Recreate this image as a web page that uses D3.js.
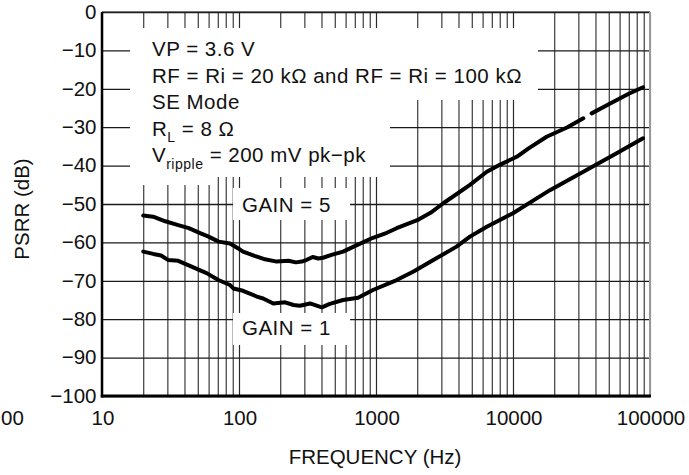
<!DOCTYPE html>
<html><head><meta charset="utf-8">
<script src="https://cdn.jsdelivr.net/npm/d3@7"></script>
<style>
html,body{margin:0;padding:0;background:#fff;}
svg{display:block;}
text{font-family:"Liberation Sans",Arial,Helvetica,sans-serif;fill:#111;}
</style></head>
<body>
<svg id="chart" width="689" height="475"></svg>
<script>
// ---- data ----
const gain5Freq = [20, 23.6, 29, 36, 43, 52, 60, 71, 86, 101, 107, 130, 155, 188, 230, 260, 287, 310, 345, 380, 410, 480, 575, 725, 950, 1200, 1415, 2000, 2500, 3100, 4850, 6440, 8000, 10650, 13000, 17600, 25000, 32600, 34500, 37500, 50000, 70000, 89000];
const gain5Psrr = [-53.0, -53.3, -54.5, -55.5, -56.3, -57.6, -58.5, -59.8, -60.3, -61.8, -62.4, -63.5, -64.4, -65.0, -64.8, -65.2, -65.0, -64.6, -63.8, -64.2, -64.0, -63.2, -62.4, -60.7, -58.8, -57.5, -56.3, -54.2, -52.3, -49.8, -45.0, -41.6, -39.8, -37.7, -35.5, -32.5, -30.0, -27.7, null, -26.4, -24.0, -21.3, -19.6];
const gain1Freq = [20, 23.7, 27, 30.5, 36, 43.8, 58, 70.7, 86, 91, 107, 135, 150, 178, 217, 250, 278, 330, 402, 460, 575, 740, 950, 1415, 1880, 2620, 3870, 4850, 6440, 10000, 14200, 18600, 32600, 57100, 89000];
const gain1Psrr = [-62.4, -63.0, -63.4, -64.6, -64.8, -66.1, -68.0, -69.8, -71.1, -72.0, -72.6, -74.1, -74.6, -75.9, -75.6, -76.3, -76.5, -75.9, -76.9, -76.0, -75.0, -74.4, -72.4, -69.8, -67.6, -64.6, -61.1, -58.5, -55.9, -52.4, -49.0, -46.4, -41.6, -36.8, -32.9];
const xTickValues = [10, 100, 1000, 10000, 100000];
const xTickLabels = ["10", "100", "1000", "10000", "100000"];
const yTickValues = [0, -10, -20, -30, -40, -50, -60, -70, -80, -90, -100];
const yTickLabels = ["0", "\u221210", "\u221220", "\u221230", "\u221240", "\u221250", "\u221260", "\u221270", "\u221280", "\u221290", "\u2212100"];
const xTitle = "FREQUENCY (Hz)";
const yTitle = "PSRR (dB)";

// ---- layout ----
const svg = d3.select("#chart");
const L = 102, R = 650, T = 12, B = 396;
const FS = 20.5;
const x = d3.scaleLog().domain([10, 100000]).range([L, R]);
const y = d3.scaleLinear().domain([-100, 0]).range([B, T]);

// grid
const minor = [];
for (let d = 10; d < 100000; d *= 10) for (let k = 1; k <= 10; k++) minor.push(d * k);
const gx = d3.axisBottom(x).tickValues(minor).tickSize(-(B - T)).tickFormat("");
svg.append("g").attr("transform", `translate(0,${B})`).call(gx)
  .call(g => g.select(".domain").remove())
  .call(g => g.selectAll("line").attr("stroke", "#2a2a2a").attr("stroke-width", 1.1));
const gy = d3.axisLeft(y).tickValues(yTickValues).tickSize(-(R - L)).tickFormat("");
svg.append("g").attr("transform", `translate(${L},0)`).call(gy)
  .call(g => g.select(".domain").remove())
  .call(g => g.selectAll("line").attr("stroke", "#1a1a1a").attr("stroke-width", 1.3));

// white annotation boxes masking grid
const boxes = [[130, 28, 538, 100], [130, 100, 390, 177], [130, 177, 210, 185], [233, 188, 350, 220], [233, 313, 350, 345]];
svg.append("g").selectAll("rect").data(boxes).join("rect")
  .attr("x", d => d[0]).attr("y", d => d[1]).attr("width", d => d[2] - d[0]).attr("height", d => d[3] - d[1])
  .attr("fill", "#fff");

// frame
svg.append("line").attr("x1", L).attr("x2", R).attr("y1", T).attr("y2", T).attr("stroke", "#222").attr("stroke-width", 1.2);
svg.append("line").attr("x1", R).attr("x2", R).attr("y1", T).attr("y2", B).attr("stroke", "#999").attr("stroke-width", 2);
svg.append("line").attr("x1", L).attr("x2", L).attr("y1", T).attr("y2", B + 1.5).attr("stroke", "#000").attr("stroke-width", 2.5);
svg.append("line").attr("x1", L - 1.2).attr("x2", R + 1).attr("y1", B).attr("y2", B).attr("stroke", "#000").attr("stroke-width", 3);

// axes labels
const ax = svg.append("g").attr("font-size", FS);
ax.selectAll(".yt").data(yTickValues).join("text").attr("class", "yt")
  .attr("x", 96.5).attr("y", d => y(d) + 6.8).attr("text-anchor", "end").text((d, i) => yTickLabels[i]);
ax.selectAll(".xt").data(xTickValues).join("text").attr("class", "xt")
  .attr("x", d => x(d) + 1).attr("y", 425).attr("text-anchor", "middle").text((d, i) => xTickLabels[i]);
// stray partial label at the far left edge (only "00" visible in the reference)
ax.append("text").attr("x", 1).attr("y", 425).attr("text-anchor", "start").text("00");
ax.append("text").attr("x", 375).attr("y", 464).attr("text-anchor", "middle").text(xTitle);
ax.append("text").attr("transform", "translate(29,209) rotate(-90)").attr("text-anchor", "middle").text(yTitle);

// curves
const line = d3.line().defined(d => d[1] !== null).x(d => x(d[0])).y(d => y(d[1])).curve(d3.curveLinear);
const series = [gain5Freq.map((f, i) => [f, gain5Psrr[i]]), gain1Freq.map((f, i) => [f, gain1Psrr[i]])];
svg.append("g").selectAll("path").data(series).join("path")
  .attr("d", line).attr("fill", "none").attr("stroke", "#000").attr("stroke-width", 4)
  .attr("stroke-linejoin", "round").attr("stroke-linecap", "round");

// annotations
const an = svg.append("g").attr("font-size", FS).attr("letter-spacing", 0.5);
an.append("text").attr("x", 152).attr("y", 56).text("VP = 3.6 V");
an.append("text").attr("x", 152).attr("y", 82.5).text("RF = Ri = 20 k\u03A9 and RF = Ri = 100 k\u03A9");
an.append("text").attr("x", 152).attr("y", 109).text("SE Mode");
const rl = an.append("text").attr("x", 152).attr("y", 135.5);
rl.append("tspan").text("R");
rl.append("tspan").attr("font-size", 14).attr("dy", 6).text("L");
rl.append("tspan").attr("dy", -6).text(" = 8 \u03A9");
const vr = an.append("text").attr("x", 152).attr("y", 162);
vr.append("tspan").text("V");
vr.append("tspan").attr("font-size", 14).attr("dy", 7).text("ripple");
vr.append("tspan").attr("dy", -7).text(" = 200 mV pk\u2212pk");
an.append("text").attr("x", 242).attr("y", 211.5).text("GAIN = 5");
an.append("text").attr("x", 242).attr("y", 335).text("GAIN = 1");
</script>
</body></html>
